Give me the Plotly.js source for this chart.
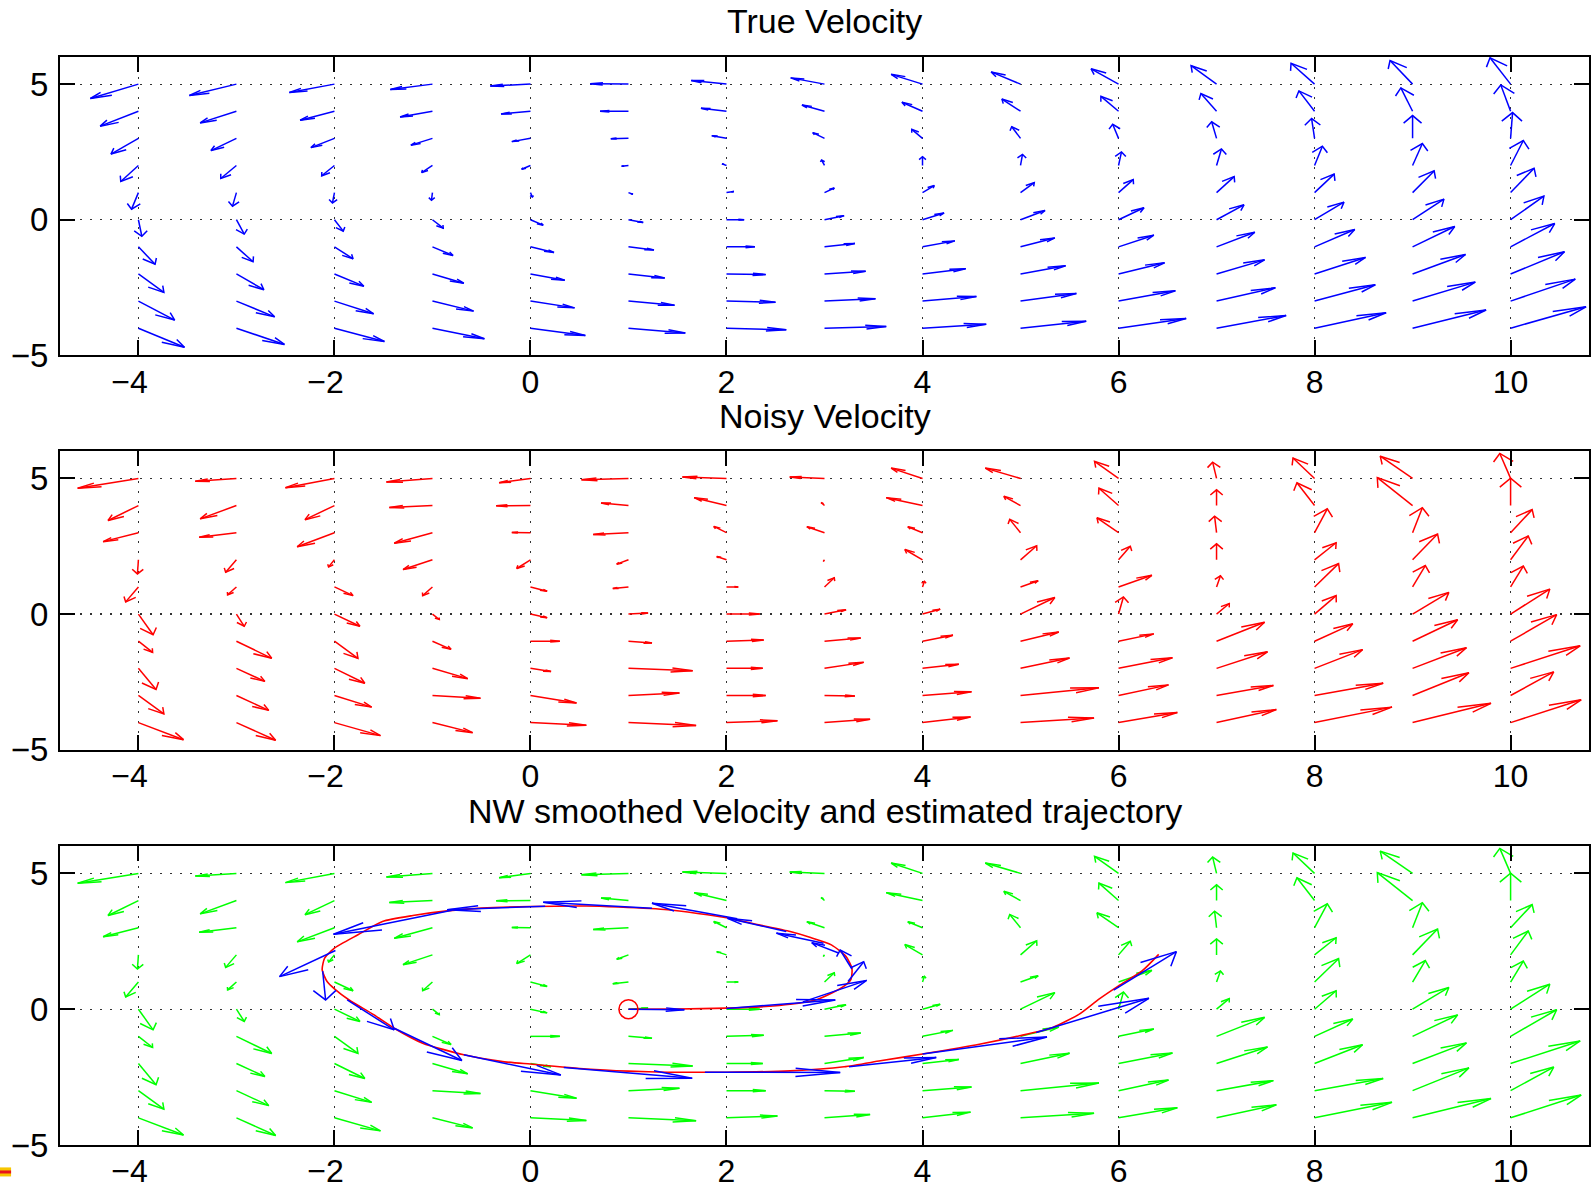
<!DOCTYPE html>
<html><head><meta charset="utf-8">
<script src="https://cdn.plot.ly/plotly-3.0.1.min.js"></script>
<style>html,body{margin:0;padding:0;background:#fff}</style>
</head><body><div id="chart" style="width:1591px;height:1186px"></div>
<script>
// grid of arrow tails
const gridX = [-4,-3,-2,-1,0,1,2,3,4,5,6,7,8,9,10];
const gridY = [5,4,3,2,1,0,-1,-2,-3,-4];

// True velocity (displayed, per column x, rows y=5..-4)
const trueU = [
 [-0.49,-0.39,-0.28,-0.18,-0.07,0.035,0.17,0.26,0.37,0.47],
 [-0.48,-0.37,-0.26,-0.16,-0.04,0.08,0.17,0.28,0.39,0.49],
 [-0.46,-0.35,-0.24,-0.13,-0.02,0.09,0.19,0.30,0.40,0.51],
 [-0.43,-0.33,-0.22,-0.11,-0.01,0.11,0.21,0.32,0.42,0.53],
 [-0.41,-0.30,-0.19,-0.09,0.02,0.13,0.24,0.35,0.45,0.56],
 [-0.39,-0.29,-0.18,-0.07,0.045,0.15,0.26,0.37,0.47,0.58],
 [-0.36,-0.26,-0.15,-0.045,0.076,0.18,0.29,0.40,0.50,0.61],
 [-0.345,-0.23,-0.12,-0.03,0.10,0.20,0.31,0.42,0.52,0.63],
 [-0.32,-0.21,-0.11,0.0,0.12,0.22,0.33,0.44,0.55,0.65],
 [-0.30,-0.19,-0.09,0.02,0.14,0.25,0.35,0.46,0.57,0.67],
 [-0.28,-0.18,-0.06,0.03,0.15,0.26,0.36,0.47,0.58,0.69],
 [-0.26,-0.16,-0.05,0.05,0.18,0.28,0.39,0.49,0.60,0.71],
 [-0.24,-0.16,-0.03,0.08,0.20,0.30,0.41,0.52,0.62,0.73],
 [-0.23,-0.12,0.0,0.10,0.22,0.32,0.43,0.54,0.64,0.75],
 [-0.21,-0.10,0.02,0.13,0.24,0.34,0.45,0.55,0.66,0.77]
];
const trueV = [
 [-0.53,-0.55,-0.58,-0.59,-0.61,-0.61,-0.64,-0.68,-0.70,-0.70],
 [-0.42,-0.43,-0.45,-0.48,-0.50,-0.53,-0.55,-0.58,-0.58,-0.60],
 [-0.31,-0.33,-0.34,-0.38,-0.38,-0.42,-0.44,-0.45,-0.47,-0.49],
 [-0.20,-0.21,-0.25,-0.26,-0.28,-0.31,-0.32,-0.34,-0.37,-0.39],
 [-0.07,-0.10,-0.12,-0.14,-0.16,-0.20,-0.21,-0.23,-0.25,-0.27],
 [0.01,0.0,-0.01,-0.03,-0.06,-0.10,-0.12,-0.15,-0.15,-0.18],
 [0.135,0.11,0.10,0.06,0.04,0.0,0.0,-0.02,-0.04,-0.06],
 [0.23,0.23,0.21,0.20,0.17,0.15,0.12,0.10,0.09,0.06],
 [0.36,0.33,0.33,0.32,0.26,0.25,0.22,0.19,0.17,0.15],
 [0.45,0.45,0.43,0.41,0.37,0.34,0.33,0.30,0.28,0.26],
 [0.565,0.55,0.52,0.50,0.48,0.44,0.43,0.41,0.38,0.36],
 [0.68,0.65,0.61,0.61,0.59,0.55,0.54,0.52,0.49,0.47],
 [0.77,0.75,0.73,0.71,0.68,0.65,0.64,0.61,0.60,0.57],
 [0.87,0.86,0.84,0.81,0.80,0.76,0.75,0.72,0.70,0.67],
 [0.97,0.97,0.95,0.92,0.90,0.87,0.86,0.82,0.81,0.79]
];

// Noisy velocity (also drawn green in the smoothed panel)
const noisyU = [
 [-0.62,-0.31,-0.36,-0.01,-0.13,0.15,0.145,0.18,0.26,0.46],
 [-0.42,-0.37,-0.38,-0.11,-0.09,0.08,0.36,0.29,0.33,0.40],
 [-0.50,-0.30,-0.38,-0.06,0.19,0.26,0.24,0.31,0.38,0.47],
 [-0.47,-0.44,-0.39,-0.30,-0.10,0.07,0.19,0.36,0.49,0.41],
 [-0.32,-0.35,-0.19,-0.14,0.17,0.17,0.30,0.21,0.47,0.57],
 [-0.48,-0.28,-0.36,-0.12,-0.16,0.20,0.24,0.655,0.52,0.69],
 [-0.45,-0.33,-0.13,-0.10,0.12,0.34,0.38,0.37,0.40,0.52],
 [-0.355,-0.03,-0.18,-0.01,0.10,0.22,0.37,0.40,0.31,0.465],
 [-0.32,-0.37,-0.15,-0.18,0.02,0.18,0.31,0.37,0.50,0.49],
 [-0.36,-0.17,-0.11,0.165,0.18,0.35,0.39,0.50,0.80,0.75],
 [-0.245,-0.20,-0.22,0.12,0.34,0.05,0.36,0.55,0.51,0.60],
 [-0.04,0.0,-0.02,0.0,0.04,0.13,0.49,0.52,0.58,0.61],
 [-0.22,-0.18,0.13,0.22,0.245,0.22,0.39,0.49,0.70,0.79],
 [-0.33,-0.36,0.10,0.255,0.13,0.37,0.46,0.55,0.575,0.80],
 [-0.11,0.0,0.22,0.18,0.13,0.40,0.47,0.71,0.44,0.72]
];
const noisyV = [
 [-0.36,-0.55,-0.33,-0.52,-0.55,-0.76,-0.41,-0.78,-0.68,-0.63],
 [-0.10,-0.49,-0.17,-0.46,-0.29,-0.45,-0.63,-0.48,-0.55,-0.65],
 [-0.34,-0.52,-0.52,-0.26,-0.32,-0.45,-0.63,-0.55,-0.43,-0.48],
 [-0.135,-0.07,-0.39,-0.36,-0.32,-0.20,-0.30,-0.38,-0.10,-0.37],
 [-0.16,-0.01,0.01,-0.32,-0.16,-0.135,0.0,-0.12,-0.28,-0.10],
 [-0.05,0.09,-0.07,-0.16,-0.06,0.04,-0.07,-0.09,0.09,-0.11],
 [0.05,0.29,0.23,0.12,0.0,0.0,0.04,0.0,0.0,0.07],
 [0.05,0.10,0.22,-0.04,0.34,0.16,0.12,0.22,-0.02,0.12],
 [0.38,0.29,0.22,0.38,0.21,0.18,0.22,0.15,0.135,0.21],
 [0.38,0.34,0.49,0.52,0.23,0.61,0.34,0.38,0.28,0.17],
 [0.63,0.64,0.55,0.50,0.43,0.63,0.27,0.39,0.39,0.37],
 [0.60,0.58,0.61,0.59,0.41,0.39,0.70,0.61,0.37,0.48],
 [0.75,0.84,0.88,0.63,0.86,0.68,0.64,0.69,0.45,0.57],
 [0.82,1.03,0.92,0.95,0.79,0.80,0.79,0.76,0.84,0.71],
 [0.92,1.01,0.85,0.88,0.77,0.92,0.98,0.83,0.87,0.84]
];

// Estimated trajectory (red line)
const pathX = [1.0,1.5,2.0,2.4,2.65,2.9,3.07,3.2,3.27,3.28,3.22,3.07,2.85,2.65,2.3,2.0,1.4,0.9,0.57,0.0,-0.5,-0.85,-1.2,-1.51,-1.76,-2.0,-2.1,-2.125,-2.075,-2.0,-1.85,-1.6,-1.39,-1.1,-0.68,-0.3,0.0,0.57,1.0,1.4,2.0,2.65,3.2,3.57,4.0,4.58,4.99,5.33,5.6,5.8,6.0,6.24,6.41];
const pathY = [0.0,0.01,0.04,0.1,0.18,0.33,0.59,0.85,1.1,1.5,1.94,2.37,2.65,2.86,3.13,3.37,3.66,3.76,3.8,3.78,3.72,3.62,3.45,3.23,2.74,2.25,1.88,1.45,1.02,0.75,0.34,-0.2,-0.7,-1.25,-1.68,-1.92,-2.02,-2.2,-2.28,-2.32,-2.32,-2.27,-2.12,-1.9,-1.65,-1.29,-0.98,-0.67,-0.18,0.37,0.86,1.41,2.02];

// Smoothed velocity along the trajectory (blue arrows)
const trajX = [1.0,2.0,2.78,3.24,3.28,3.15,2.99,2.61,2.11,1.24,0.15,-0.80,-1.99,-2.12,-1.87,-1.39,-0.68,0.34,1.78,3.25,4.0,5.16,5.95];
const trajY = [0.0,0.03,0.27,1.02,1.48,2.06,2.43,2.86,3.33,3.72,3.79,3.64,2.16,1.40,0.34,-0.70,-1.68,-2.15,-2.32,-2.12,-1.65,-0.86,0.70];
const trajU = [0.57,1.11,0.65,0.16,-0.12,-0.28,-0.48,-0.60,-0.87,-1.11,-1.00,-1.21,-0.57,0.03,0.48,0.69,0.99,1.31,1.38,0.89,1.27,1.15,0.64];
const trajV = [-0.02,0.31,0.79,0.73,0.70,0.39,0.37,0.49,0.57,0.22,-0.13,-0.88,-0.96,-1.06,-1.10,-1.19,-0.74,-0.39,-0.01,0.34,0.63,1.26,1.42];

const startX = [1.0], startY = [0.0];

const xTickVals = [-4,-2,0,2,4,6,8,10];
const xTickText = ['\u22124\u2007','\u22122\u2007','0','2','4','6','8','10'];
const yTickVals = [-5,0,5];
const yTickText = ['\u22125','0','5'];
const panelTitles = ['True Velocity','Noisy Velocity','NW smoothed Velocity and estimated trajectory'];

// MATLAB-style quiver geometry (alpha = beta = 0.33)
function quiver(xs, ys, us, vs) {
  const a = 0.33, b = 0.33, e = 2.2e-16;
  const X = [], Y = [];
  for (let i = 0; i < xs.length; i++) {
    const x = xs[i], y = ys[i], u = us[i], v = vs[i];
    X.push(x, x + u, null); Y.push(y, y + v, null);
    X.push(x + u - a * (u + b * (v + e)), x + u, x + u - a * (u - b * (v + e)), null);
    Y.push(y + v - a * (v - b * (u + e)), y + v, y + v - a * (v + b * (u + e)), null);
  }
  return {x: X, y: Y};
}
function gridQuiver(U, V) {
  const xs = [], ys = [], us = [], vs = [];
  gridX.forEach((gx, i) => gridY.forEach((gy, j) => {
    xs.push(gx); ys.push(gy); us.push(U[i][j]); vs.push(V[i][j]);
  }));
  return quiver(xs, ys, us, vs);
}
function arrowTrace(q, color, xa, ya) {
  return {type: 'scatter', mode: 'lines', x: q.x, y: q.y, xaxis: xa, yaxis: ya,
    line: {color: color, width: 1.5}, hoverinfo: 'skip', showlegend: false, connectgaps: false};
}

const qTrue = gridQuiver(trueU, trueV);
const qNoisy = gridQuiver(noisyU, noisyV);
const qTraj = quiver(trajX, trajY, trajU, trajV);

const traces = [
  arrowTrace(qTrue, '#0000ff', 'x', 'y'),
  arrowTrace(qNoisy, '#ff0000', 'x2', 'y2'),
  arrowTrace(qNoisy, '#00ff00', 'x3', 'y3'),
  {type: 'scatter', mode: 'lines', x: pathX, y: pathY, xaxis: 'x3', yaxis: 'y3',
   line: {color: '#ff0000', width: 1.6, shape: 'spline', smoothing: 0.6}, hoverinfo: 'skip', showlegend: false},
  arrowTrace(qTraj, '#0000ff', 'x3', 'y3'),
  {type: 'scatter', mode: 'markers', x: startX, y: startY, xaxis: 'x3', yaxis: 'y3',
   marker: {symbol: 'circle-open', size: 19, color: '#ff0000', line: {width: 1.6, color: '#ff0000'}},
   hoverinfo: 'skip', showlegend: false}
];

const FONT = 'Liberation Sans, Arial, Helvetica, sans-serif';
function xAxis(anchor) {
  return {anchor: anchor, domain: [0, 1], range: [-4.8, 10.8], tickvals: xTickVals, ticktext: xTickText,
    showline: true, linecolor: '#000', linewidth: 2, mirror: 'ticks', ticks: 'inside', ticklen: 15,
    tickwidth: 2, tickcolor: '#000', showgrid: true, gridcolor: '#333', gridwidth: 1.2, griddash: '2px,8px',
    zeroline: false, ticklabelstandoff: -3, tickfont: {family: FONT, size: 32, color: '#000'}};
}
function yAxis(anchor, dom) {
  return {anchor: anchor, domain: dom, range: [-5, 6], tickvals: yTickVals, ticktext: yTickText,
    showline: true, linecolor: '#000', linewidth: 2, mirror: 'ticks', ticks: 'inside', ticklen: 15,
    tickwidth: 2, tickcolor: '#000', showgrid: true, gridcolor: '#333', gridwidth: 1.2, griddash: '2px,8px',
    zeroline: false, ticklabelstandoff: 3, tickfont: {family: FONT, size: 33, color: '#000'}};
}

const titleY = [1.0335, 0.6697, 0.3066];
const layout = {
  width: 1591, height: 1186,
  margin: {l: 60, r: 2, t: 57, b: 41, pad: 0},
  paper_bgcolor: '#fff', plot_bgcolor: '#fff',
  showlegend: false,
  xaxis: xAxis('y'), yaxis: yAxis('x', [0.7258, 1]),
  xaxis2: xAxis('y2'), yaxis2: yAxis('x2', [0.3633, 0.6376]),
  xaxis3: xAxis('y3'), yaxis3: yAxis('x3', [0, 0.2746]),
  annotations: panelTitles.map((t, i) => ({text: t, xref: 'paper', yref: 'paper', x: 0.5, y: titleY[i],
    xanchor: 'center', yanchor: 'middle', showarrow: false, font: {family: FONT, size: 34, color: '#000'}})),
  shapes: [
    {type: 'rect', xref: 'paper', yref: 'paper', x0: -0.045, x1: -0.032, y0: -0.0289, y1: -0.0206,
     fillcolor: '#f7c600', line: {width: 0}},
    {type: 'line', xref: 'paper', yref: 'paper', x0: -0.045, x1: -0.032, y0: -0.0248, y1: -0.0248,
     line: {color: '#e8141c', width: 3}}
  ]
};

Plotly.newPlot('chart', traces, layout, {staticPlot: true, displayModeBar: false});
</script>
</body></html>
